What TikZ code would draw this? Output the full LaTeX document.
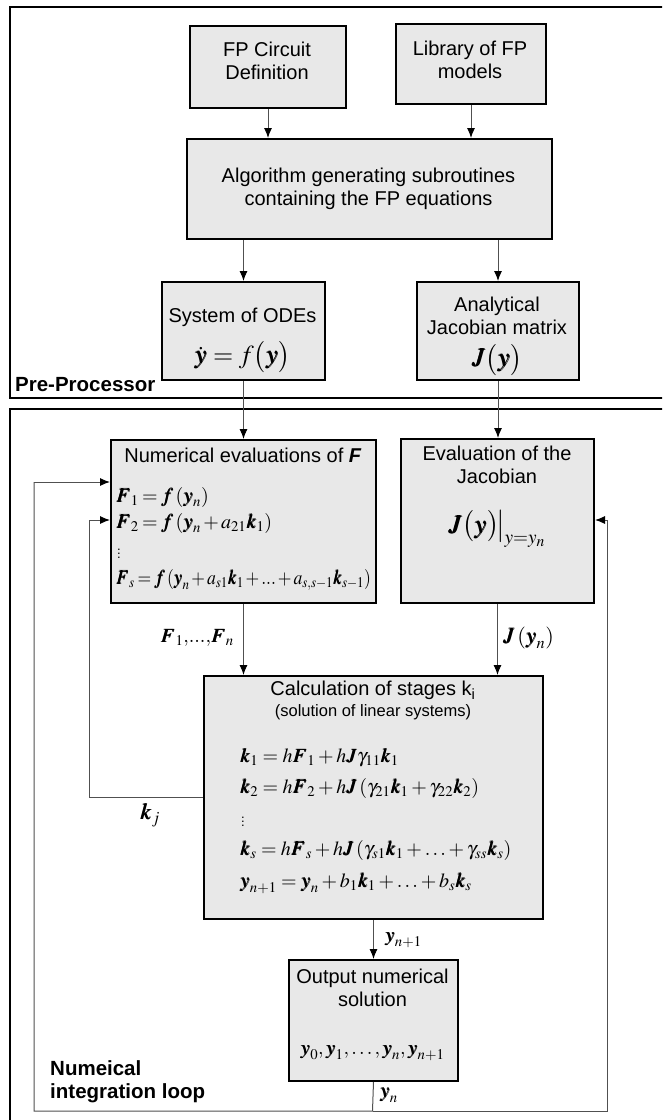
\documentclass[tikz,border=0pt]{standalone}
\usepackage{amsmath}
\IfFileExists{mathptmx.sty}{\usepackage{mathptmx}}{}
\usepackage{bm}
\usepackage{graphicx}
\usepackage[no-math]{fontspec}
\setmainfont{Liberation Sans}
\usetikzlibrary{arrows.meta}
\definecolor{boxfill}{RGB}{232,232,232}
\definecolor{linegray}{RGB}{80,80,80}
\newcommand{\tdots}{\mathord{.}\mathord{.}\mathord{.}}
\newcommand{\tightmath}{\medmuskip=2mu plus 1mu\thickmuskip=3mu plus 1mu}
\tikzset{
  box/.style={draw=black, line width=2pt, fill=boxfill, inner sep=0pt, anchor=north west},
  txt/.style={inner sep=0pt, align=center, font=\fontsize{20}{23}\selectfont},
  smalltxt/.style={inner sep=0pt, align=center, font=\fontsize{16.5}{19}\selectfont},
  eq/.style={inner sep=0pt, anchor=west, font=\fontsize{20}{24}\selectfont},
  dotsq/.style={inner sep=0pt, anchor=west, font=\fontsize{13}{15}\selectfont},
  bigeq/.style={inner sep=0pt, font=\fontsize{26}{30}\selectfont},
  lbl/.style={inner sep=0pt, font=\fontsize{20}{24}\selectfont},
  framelabel/.style={inner sep=0pt, anchor=west, align=left, font=\fontsize{20.5}{23}\selectfont\bfseries},
  frameline/.style={draw=black, line width=2pt},
  conn/.style={draw=linegray, line width=1pt},
  arr/.style={-{Latex[length=10pt,width=8pt,color=black]}},
}
\begin{document}
\begin{tikzpicture}[x=1pt,y=-1pt]
\useasboundingbox (0,0) rectangle (662,1120);
\clip (0,0) rectangle (662,1120);

% frames
\draw[frameline] (700,7) -- (10,7) -- (10,398) -- (700,398);
\draw[frameline] (700,409) -- (10,409) -- (10,1140);

% boxes
\node[box, minimum width=156pt, minimum height=82pt] (fp) at (189,25) {};
\node[box, minimum width=150pt, minimum height=80pt] (lib) at (395,23) {};
\node[box, minimum width=365pt, minimum height=100pt] (alg) at (186,138) {};
\node[box, minimum width=163pt, minimum height=98pt] (ode) at (161,281) {};
\node[box, minimum width=162pt, minimum height=98pt] (jac) at (416,281) {};
\node[box, minimum width=265pt, minimum height=163pt] (numF) at (110,439) {};
\node[box, minimum width=193pt, minimum height=164pt] (evJ) at (400,438) {};
\node[box, minimum width=339pt, minimum height=243pt] (calc) at (203,675) {};
\node[box, minimum width=169pt, minimum height=121pt] (out) at (288,959) {};

% box texts
\node[txt] (fptxt) at (267,61) {FP Circuit\\Definition};
\node[txt] (libtxt) at (470,60) {Library of FP\\models};
\node[txt] (algtxt) at (368.5,189) {Algorithm generating subroutines\\containing the FP equations};
\node[txt] (odetxt) at (242.5,317) {System of ODEs};
\node[bigeq] (odeeq) at (242.5,357) {$\dot{\bm{y}} = f\bigl(\bm{y}\bigr)$};
\node[txt] (jactxt) at (497,316) {Analytical\\Jacobian matrix};
\node[bigeq] (jaceq) at (497,360) {$\bm{J}\bigl(\bm{y}\bigr)$};

\node[txt] (numFtxt) at (243,455) {Numerical evaluations of \textbf{\textit{F}}};
\node[eq] (f1) at (116,497) {$\tightmath\bm{F}_1 = \bm{f}\left(\bm{y}_n\right)$};
\node[eq] (f2) at (116,523) {$\tightmath\bm{F}_2 = \bm{f}\left(\bm{y}_n + a_{21}\bm{k}_1\right)$};
\node[dotsq] (fd) at (117,551) {$\vdots$};
\node[eq] (fs) at (116,580) {\scalebox{0.88}[1]{$\tightmath\bm{F}_s = \bm{f}\left(\bm{y}_n + a_{s1}\bm{k}_1 + \tdots + a_{s,s-1}\bm{k}_{s-1}\right)$}};

\node[txt] (evJtxt) at (497,465) {Evaluation of the\\Jacobian};
\node[bigeq] (evJeq) at (497,529) {$\bm{J}\bigl(\bm{y}\bigr)\!\big|_{y=y_n}$};

\node[txt] (calctxt) at (373,690) {Calculation of stages k\textsubscript{i}};
\node[smalltxt] (calcsub) at (373,712) {(solution of linear systems)};
\node[eq] (k1) at (240,758) {$\bm{k}_1 = h\bm{F}_1 + h\bm{J}\gamma_{11}\bm{k}_1$};
\node[eq] (k2) at (240,788) {$\bm{k}_2 = h\bm{F}_2 + h\bm{J}\left(\gamma_{21}\bm{k}_1 + \gamma_{22}\bm{k}_2\right)$};
\node[dotsq] (kd) at (241,819) {$\vdots$};
\node[eq] (ks) at (240,850) {$\bm{k}_s = h\bm{F}_s + h\bm{J}\left(\gamma_{s1}\bm{k}_1 + \ldots + \gamma_{ss}\bm{k}_s\right)$};
\node[eq] (yn1) at (240,883) {$\bm{y}_{n+1} = \bm{y}_n + b_1\bm{k}_1 + \ldots + b_s\bm{k}_s$};

\node[txt] (outtxt) at (372.5,987.5) {Output numerical\\solution};
\node[lbl] (outeq) at (372.5,1053) {$\bm{y}_0, \bm{y}_1, \ldots, \bm{y}_n, \bm{y}_{n+1}$};

% frame labels
\node[framelabel] (pre) at (15,385) {Pre-Processor};
\node[framelabel] (loop) at (50,1081.5) {Numeical\\integration loop};

% connectors
\draw[conn,arr] (fp.south) -- (fp.south |- alg.north);
\draw[conn,arr] (lib.south) -- (lib.south |- alg.north);
\draw[conn,arr] (alg.south -| ode.north) -- (ode.north);
\draw[conn,arr] (alg.south -| jac.north) -- (jac.north);
\draw[conn,arr] (ode.south) -- (ode.south |- numF.north);
\draw[conn,arr] (jac.south) -- (jac.south |- evJ.north);
\draw[conn,arr] (numF.south) -- (numF.south |- calc.north);
\draw[conn,arr] (evJ.south) -- (evJ.south |- calc.north);
\draw[conn,arr] (calc.south -| out.north) -- (out.north);

% loop
\coordinate (lb) at (372.5,1111);
\coordinate (lp) at (34,482);
\coordinate (rp) at (607,520);
\coordinate (kp) at (89,520);
\draw[conn] (out.south) -- (lb) -| (lp);
\draw[conn,arr] (lp) -- (lp -| numF.west);
\draw[conn] (lb) -| (rp);
\draw[conn,arr] (rp) -- (rp -| evJ.east);
\draw[conn] (calc.west) -| (kp);
\draw[conn,arr] (kp) -- (kp -| numF.west);

% connector labels
\node[lbl, anchor=east] (lF) at (234,638) {$\bm{F}_1{,}\tdots{,}\bm{F}_n$};
\node[lbl, anchor=west, font=\fontsize{22}{26}\selectfont] (lJ) at (503,638) {$\bm{J}\left(\bm{y}_n\right)$};
\node[lbl, font=\fontsize{23}{27}\selectfont] (lk) at (150,815) {$\bm{k}_j$};
\node[lbl, anchor=west] (ly1) at (385,940) {$\bm{y}_{n+1}$};
\node[lbl, anchor=west] (lyn) at (380,1095) {$\bm{y}_n$};
\end{tikzpicture}
\end{document}
